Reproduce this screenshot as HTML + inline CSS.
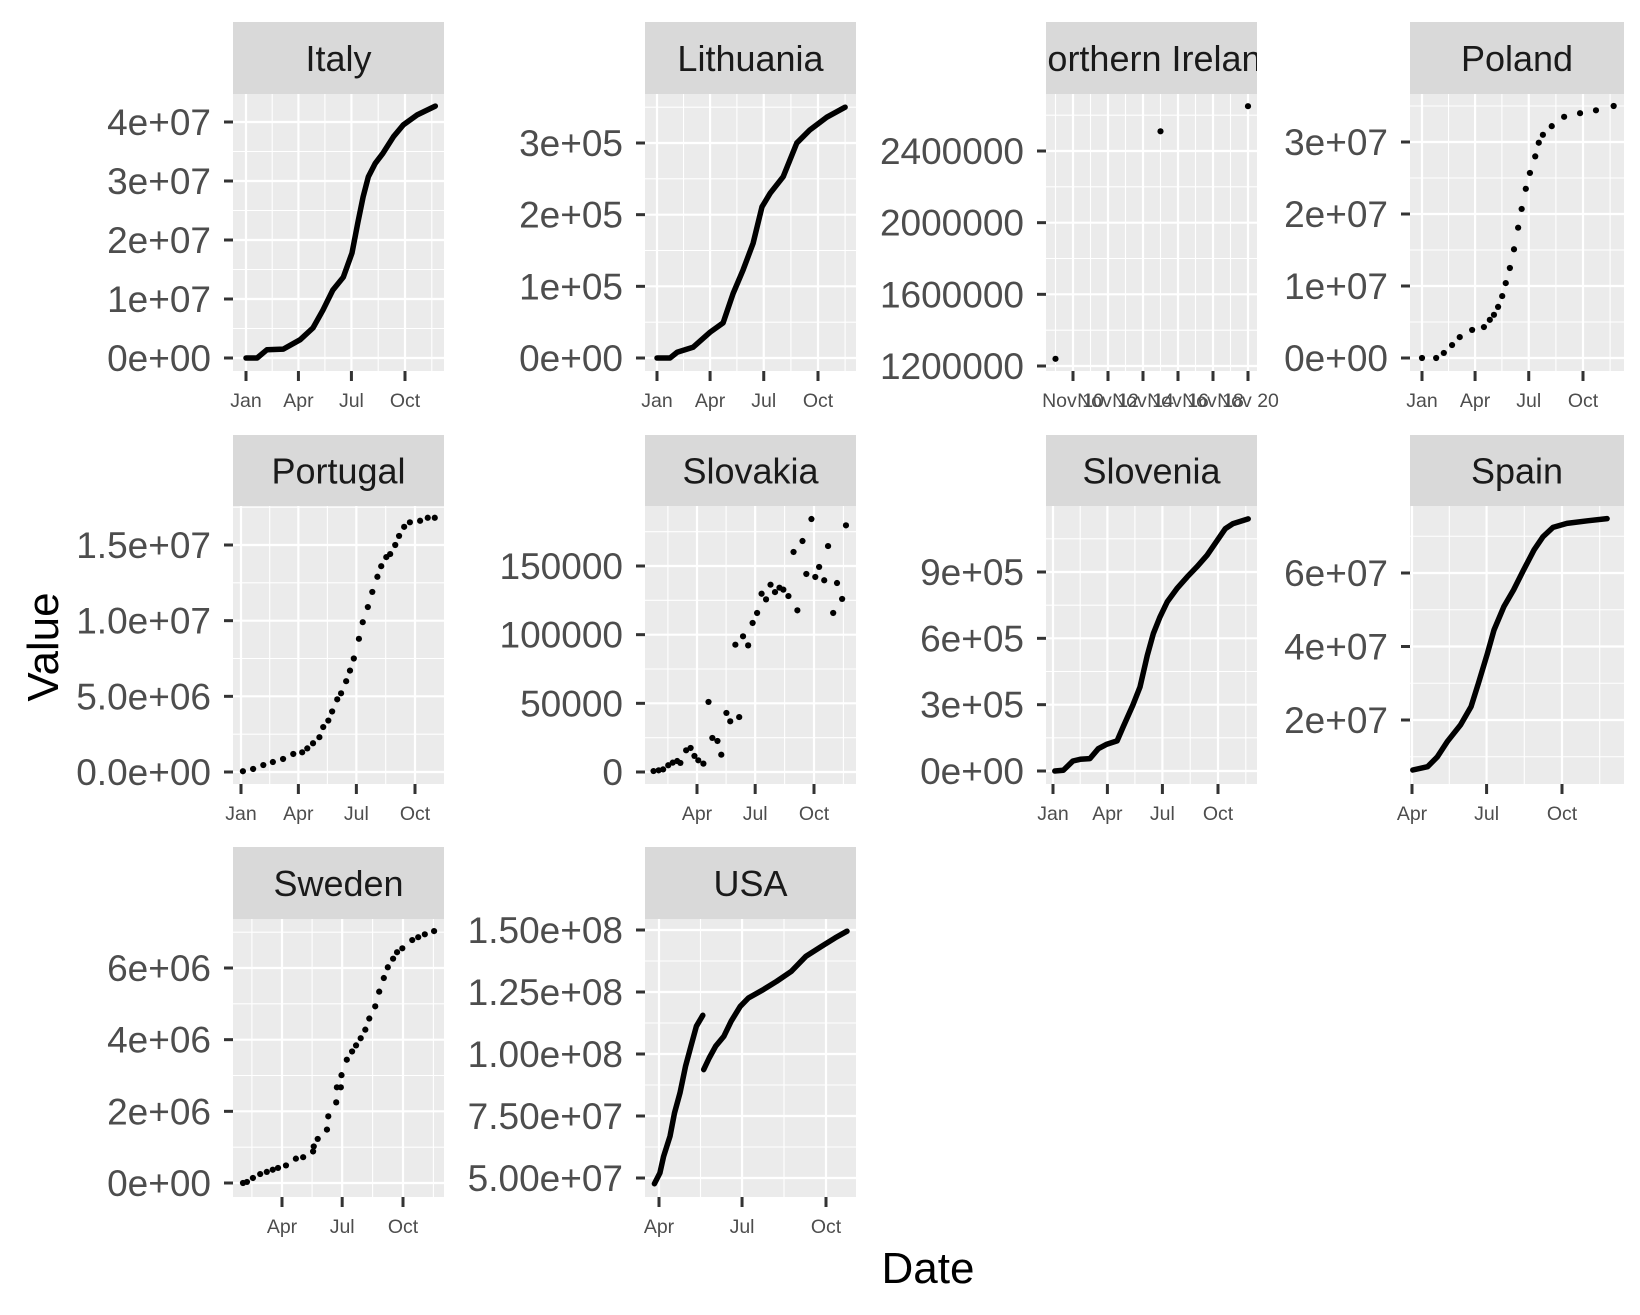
<!DOCTYPE html>
<html><head><meta charset="utf-8">
<style>
html,body{margin:0;padding:0;background:#fff;}
svg{display:block;font-family:"Liberation Sans",Arial,sans-serif;}
</style></head>
<body>
<svg id="chart" width="1640" height="1315" viewBox="0 0 1640 1315" xmlns="http://www.w3.org/2000/svg">
<rect x="0" y="0" width="1640" height="1315" fill="#ffffff"/>
<text x="928" y="1283" font-size="44" text-anchor="middle" fill="#000">Date</text>
<text x="0" y="0" font-size="44" text-anchor="middle" fill="#000" transform="translate(58,647) rotate(-90)">Value</text>
</svg>
<script>
// ---- data (day of year 2020; N. Ireland uses day of November) ----
const italyDays = [0,19,36,64,93,115,132,149,167,182,192,201,210,222,235,253,270,294,325];
const italyValues = [0,0,1.4e6,1.5e6,3.1e6,5.1e6,8.1e6,11.5e6,13.7e6,17.8e6,22.9e6,27.3e6,30.7e6,33e6,34.7e6,37.5e6,39.5e6,41.2e6,42.7e6];

const lithuaniaDays = [0,22,34,61,90,112,129,146,163,178,192,214,237,259,288,319];
const lithuaniaValues = [0,0,8e3,15e3,36e3,49e3,90e3,123e3,160e3,211e3,230e3,253e3,300e3,318e3,336e3,350e3];

const nirelandDays = [9,15,20];
const nirelandValues = [1.24e6,2.51e6,2.65e6];

const polandDays = [0,24,37,51,64,85,105,115,122,129,136,142,149,156,163,169,176,183,192,198,205,220,241,268,295,325];
const polandValues = [0,0,0.7e6,1.8e6,2.9e6,3.9e6,4.3e6,5.3e6,6.0e6,7.1e6,8.6e6,10.4e6,12.5e6,15.1e6,18.1e6,20.7e6,23.5e6,25.7e6,28.0e6,29.9e6,31.0e6,32.2e6,33.5e6,34.0e6,34.4e6,35.0e6];

const portugalDays = [3,19,35,50,66,82,96,104,113,123,129,137,143,151,157,165,171,177,185,191,199,206,214,220,228,234,242,248,256,265,281,293,304];
const portugalValues = [0.05e6,0.2e6,0.46e6,0.66e6,0.86e6,1.19e6,1.3e6,1.56e6,1.9e6,2.3e6,2.97e6,3.4e6,4.0e6,4.8e6,5.2e6,6.0e6,6.7e6,7.5e6,8.8e6,9.9e6,10.9e6,11.9e6,12.9e6,13.6e6,14.2e6,14.4e6,15.0e6,15.6e6,16.2e6,16.5e6,16.6e6,16.8e6,16.8e6];

const slovakiaDays = [22,30,37,45,52,59,64,73,80,86,92,100,108,114,122,128,136,142,150,156,162,170,177,184,191,198,205,212,219,225,233,241,247,255,261,269,275,281,289,295,303,309,317,323];
const slovakiaValues = [700,1200,1900,4900,6800,8000,6600,15800,17500,11700,8500,6100,51000,24800,22600,12600,43000,36900,92700,40000,98800,92200,108500,115800,129800,125700,136400,131000,134200,132800,128100,160200,117700,168200,144200,184200,142000,149300,139600,164500,115800,137600,126000,179600];

const sloveniaDays = [3,17,33,45,61,75,89,106,116,132,144,156,166,177,189,205,222,238,255,272,285,298,323];
const sloveniaValues = [0,3e3,45e3,53e3,56e3,101e3,121e3,136e3,199e3,297e3,380e3,523e3,621e3,697e3,765e3,825e3,878e3,923e3,976e3,1044e3,1096e3,1119e3,1140e3];

const spainDays = [91,109,121,133,149,162,171,182,190,202,214,226,239,250,262,279,304,328];
const spainValues = [6.4e6,7.3e6,10.0e6,14.1e6,18.6e6,23.6e6,30.0e6,38.1e6,44.5e6,50.8e6,55.4e6,60.8e6,66.3e6,69.9e6,72.4e6,73.5e6,74.2e6,74.8e6];

const swedenDays = [31,37,46,57,67,76,84,96,111,122,137,138,144,158,160,172,173,179,180,188,196,202,209,216,222,231,237,244,250,258,264,272,287,296,306,320];
const swedenValues = [0,0.03e6,0.14e6,0.25e6,0.31e6,0.37e6,0.42e6,0.49e6,0.68e6,0.72e6,0.88e6,1.02e6,1.23e6,1.49e6,1.86e6,2.25e6,2.67e6,2.67e6,3.01e6,3.44e6,3.67e6,3.84e6,4.04e6,4.28e6,4.59e6,4.93e6,5.34e6,5.72e6,6.02e6,6.26e6,6.44e6,6.55e6,6.78e6,6.86e6,6.94e6,7.03e6];

const usaDays = [85,91,95,102,107,113,119,125,131,138,139,145,152,161,169,179,188,204,219,235,251,268,283,296];
const usaValues = [47.7e6,52.0e6,58.7e6,66.8e6,76.2e6,84.3e6,95.0e6,103.1e6,111.2e6,115.6e6,93.7e6,98.4e6,103.1e6,107.1e6,113.2e6,119.2e6,122.6e6,125.9e6,129.3e6,133.3e6,139.4e6,143.4e6,146.8e6,149.5e6];

// ---- tick arrays ----
const monthTickDays = [0,90,181,273];
const monthTickLabels = ["Jan","Apr","Jul","Oct"];
const lateMonthTickDays = [90,181,273];
const lateMonthTickLabels = ["Apr","Jul","Oct"];
const novTickDays = [10,12,14,16,18,20];
const novTickLabels = ["Nov 10","Nov 12","Nov 14","Nov 16","Nov 18","Nov 20"];

const italyYTicks = [0,1e7,2e7,3e7,4e7];
const italyYLabels = ["0e+00","1e+07","2e+07","3e+07","4e+07"];
const lithuaniaYTicks = [0,1e5,2e5,3e5];
const lithuaniaYLabels = ["0e+00","1e+05","2e+05","3e+05"];
const nirelandYTicks = [1.2e6,1.6e6,2.0e6,2.4e6];
const nirelandYLabels = ["1200000","1600000","2000000","2400000"];
const polandYTicks = [0,1e7,2e7,3e7];
const polandYLabels = ["0e+00","1e+07","2e+07","3e+07"];
const portugalYTicks = [0,5e6,1e7,1.5e7];
const portugalYLabels = ["0.0e+00","5.0e+06","1.0e+07","1.5e+07"];
const slovakiaYTicks = [0,50000,100000,150000];
const slovakiaYLabels = ["0","50000","100000","150000"];
const sloveniaYTicks = [0,3e5,6e5,9e5];
const sloveniaYLabels = ["0e+00","3e+05","6e+05","9e+05"];
const spainYTicks = [2e7,4e7,6e7];
const spainYLabels = ["2e+07","4e+07","6e+07"];
const swedenYTicks = [0,2e6,4e6,6e6];
const swedenYLabels = ["0e+00","2e+06","4e+06","6e+06"];
const usaYTicks = [5e7,7.5e7,1e8,1.25e8,1.5e8];
const usaYLabels = ["5.00e+07","7.50e+07","1.00e+08","1.25e+08","1.50e+08"];

const NS = "http://www.w3.org/2000/svg";
const svg = document.getElementById("chart");
function mk(tag, attrs, parent){
  const e = document.createElementNS(NS, tag);
  for (const k in attrs) e.setAttribute(k, attrs[k]);
  (parent||svg).appendChild(e);
  return e;
}
function minors(maj){
  const out=[];
  for(let i=0;i<maj.length-1;i++) out.push((maj[i]+maj[i+1])/2);
  if(maj.length>1){
    out.push(maj[0]-(maj[1]-maj[0])/2);
    out.push(maj[maj.length-1]+(maj[maj.length-1]-maj[maj.length-2])/2);
  }
  return out;
}

const panels = [
 {key:"italy",title:"Italy",L:233,R:444,ST:22,PT:94,PB:371,xd:[0,273],xp:[246,405],yv:[0,4e7],yp:[358,122],days:italyDays,vals:italyValues,yt:italyYTicks,yl:italyYLabels,xt:monthTickDays,xl:monthTickLabels,mode:"line"},
 {key:"lithuania",title:"Lithuania",L:645,R:856,ST:22,PT:94,PB:371,xd:[0,273],xp:[657,818],yv:[0,3e5],yp:[358,143],days:lithuaniaDays,vals:lithuaniaValues,yt:lithuaniaYTicks,yl:lithuaniaYLabels,xt:monthTickDays,xl:monthTickLabels,mode:"line"},
 {key:"northern-ireland",title:"Northern Ireland",L:1046,R:1257,ST:22,PT:94,PB:371,xd:[10,20],xp:[1073,1248],yv:[1.2e6,2.4e6],yp:[366,151],days:nirelandDays,vals:nirelandValues,yt:nirelandYTicks,yl:nirelandYLabels,xt:novTickDays,xl:novTickLabels,mode:"points"},
 {key:"poland",title:"Poland",L:1410,R:1624,ST:22,PT:94,PB:371,xd:[0,273],xp:[1422,1583],yv:[0,3e7],yp:[358,142],days:polandDays,vals:polandValues,yt:polandYTicks,yl:polandYLabels,xt:monthTickDays,xl:monthTickLabels,mode:"points"},
 {key:"portugal",title:"Portugal",L:233,R:444,ST:435,PT:506,PB:784,xd:[0,273],xp:[241,415],yv:[0,1.5e7],yp:[772,545],days:portugalDays,vals:portugalValues,yt:portugalYTicks,yl:portugalYLabels,xt:monthTickDays,xl:monthTickLabels,mode:"points"},
 {key:"slovakia",title:"Slovakia",L:645,R:856,ST:435,PT:506,PB:784,xd:[90,273],xp:[697,814],yv:[0,150000],yp:[772,566],days:slovakiaDays,vals:slovakiaValues,yt:slovakiaYTicks,yl:slovakiaYLabels,xt:lateMonthTickDays,xl:lateMonthTickLabels,mode:"points"},
 {key:"slovenia",title:"Slovenia",L:1046,R:1257,ST:435,PT:506,PB:784,xd:[0,273],xp:[1053,1218],yv:[0,9e5],yp:[771,572],days:sloveniaDays,vals:sloveniaValues,yt:sloveniaYTicks,yl:sloveniaYLabels,xt:monthTickDays,xl:monthTickLabels,mode:"line"},
 {key:"spain",title:"Spain",L:1410,R:1624,ST:435,PT:506,PB:784,xd:[90,273],xp:[1412,1562],yv:[2e7,6e7],yp:[720,573],days:spainDays,vals:spainValues,yt:spainYTicks,yl:spainYLabels,xt:lateMonthTickDays,xl:lateMonthTickLabels,mode:"line"},
 {key:"sweden",title:"Sweden",L:233,R:444,ST:847,PT:919,PB:1197,xd:[90,273],xp:[282,403],yv:[0,6e6],yp:[1183,968],days:swedenDays,vals:swedenValues,yt:swedenYTicks,yl:swedenYLabels,xt:lateMonthTickDays,xl:lateMonthTickLabels,mode:"points"},
 {key:"usa",title:"USA",L:645,R:856,ST:847,PT:919,PB:1197,xd:[90,273],xp:[659,826],yv:[5e7,1.5e8],yp:[1178,930],days:usaDays,vals:usaValues,yt:usaYTicks,yl:usaYLabels,xt:lateMonthTickDays,xl:lateMonthTickLabels,mode:"line"}
];

panels.forEach(p=>{
  const xs = d => p.xp[0] + (d-p.xd[0])*(p.xp[1]-p.xp[0])/(p.xd[1]-p.xd[0]);
  const ys = v => p.yp[0] + (v-p.yv[0])*(p.yp[1]-p.yp[0])/(p.yv[1]-p.yv[0]);
  const g = mk("g",{});
  
  
  const clipId = "clip-"+p.key;
  const cp = mk("clipPath",{id:clipId},g);
  mk("rect",{x:p.L,y:p.PT,width:p.R-p.L,height:p.PB-p.PT},cp);
  const sclipId = "sclip-"+p.key;
  const scp = mk("clipPath",{id:sclipId},g);
  mk("rect",{x:p.L,y:p.ST,width:p.R-p.L,height:p.PT-p.ST},scp);
  const strip = mk("rect",{x:p.L,y:p.ST,width:p.R-p.L,height:p.PT-p.ST,fill:"#D9D9D9"},g);
  
  
  const st = mk("text",{x:(p.L+p.R)/2,y:(p.ST+p.PT)/2+13,"font-size":36,"text-anchor":"middle",fill:"#1A1A1A","clip-path":"url(#"+sclipId+")"},g);
  st.textContent = p.title;
  
  
  const bg = mk("rect",{x:p.L,y:p.PT,width:p.R-p.L,height:p.PB-p.PT,fill:"#EBEBEB"},g);
  
  
  const grid = mk("g",{"clip-path":"url(#"+clipId+")"},g);
  
  
  minors(p.yt).forEach(v=>{const y=ys(v); if(y>p.PT&&y<p.PB) mk("line",{x1:p.L,x2:p.R,y1:y,y2:y,stroke:"#fff","stroke-width":1.1},grid);});
  minors(p.xt).forEach(d=>{const x=xs(d); if(x>p.L&&x<p.R) mk("line",{x1:x,x2:x,y1:p.PT,y2:p.PB,stroke:"#fff","stroke-width":1.1},grid);});
  p.yt.forEach(v=>{const y=ys(v); mk("line",{x1:p.L,x2:p.R,y1:y,y2:y,stroke:"#fff","stroke-width":2.2},grid);});
  p.xt.forEach(d=>{const x=xs(d); mk("line",{x1:x,x2:x,y1:p.PT,y2:p.PB,stroke:"#fff","stroke-width":2.2},grid);});
  p.yt.forEach((v,i)=>{
    const y=ys(v);
    const tk = mk("line",{x1:p.L-9,x2:p.L,y1:y,y2:y,stroke:"#333","stroke-width":3},g);
    
    
    const t = mk("text",{x:p.L-22,y:y+13,"font-size":37,"text-anchor":"end",fill:"#4D4D4D"},g);
    t.textContent = p.yl[i];
    
    
  });
  p.xt.forEach((d,i)=>{
    const x=xs(d);
    const tk = mk("line",{x1:x,x2:x,y1:p.PB,y2:p.PB+10,stroke:"#333","stroke-width":3},g);
    
    
    const t = mk("text",{x:x,y:p.PB+36,"font-size":19.5,"text-anchor":"middle",fill:"#4D4D4D"},g);
    t.textContent = p.xl[i];
    
    
  });
  const sg = mk("g",{"clip-path":"url(#"+clipId+")"},g);
  
  
  if(p.mode==="line"){
    let segs=[[]];
    p.days.forEach((d,i)=>{
      if(i>0 && p.vals[i] < p.vals[i-1]-1) segs.push([]);
      segs[segs.length-1].push(xs(d).toFixed(1)+","+ys(p.vals[i]).toFixed(1));
    });
    segs.forEach(s=>{
      const pl = mk("polyline",{points:s.join(" "),fill:"none",stroke:"#000","stroke-width":5.5,"stroke-linejoin":"round","stroke-linecap":"round"},sg);
      
      
    });
  } else {
    p.days.forEach((d,i)=>{
      const c = mk("circle",{cx:xs(d),cy:ys(p.vals[i]),r:3.1,fill:"#000"},sg);
      
      
    });
  }
});
</script>
</body></html>
